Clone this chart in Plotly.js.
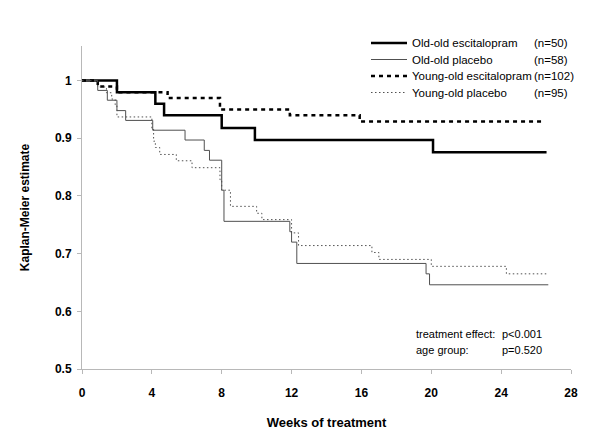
<!DOCTYPE html>
<html>
<head>
<meta charset="utf-8">
<script src="https://cdn.plot.ly/plotly-3.0.1.min.js"></script>
<style>html,body{margin:0;padding:0;background:#fff;}#chart{width:600px;height:446px;}</style>
</head>
<body>
<div id="chart"></div>
<script>
// ---- data (weeks, Kaplan-Meier estimate) ----
const seriesNames = ["Old-old escitalopram", "Old-old placebo", "Young-old escitalopram", "Young-old placebo"];
const seriesN = ["(n=50)", "(n=58)", "(n=102)", "(n=95)"];

const oeWeeks = [0, 2.0, 4.2, 4.7, 8.0, 9.9, 20.1, 26.6];
const oeSurv  = [1, 0.98, 0.96, 0.94, 0.918, 0.897, 0.876, 0.876];

const opWeeks = [0, 0.9, 1.45, 2.0, 2.5, 4.05, 5.9, 7.0, 7.3, 8.0, 8.13, 11.9, 12.0, 12.3, 19.7, 19.9, 26.7];
const opSurv  = [1, 0.983, 0.966, 0.948, 0.931, 0.914, 0.897, 0.879, 0.862, 0.81, 0.756, 0.738, 0.72, 0.683, 0.665, 0.646, 0.646];

const yeWeeks = [0, 0.9, 2.0, 4.9, 7.9, 11.9, 15.9, 26.5];
const yeSurv  = [1, 0.99, 0.98, 0.97, 0.95, 0.94, 0.929, 0.929];

const ypWeeks = [0, 0.9, 1.4, 1.7, 1.9, 2.0, 4.0, 4.1, 4.2, 4.45, 5.4, 6.3, 7.9, 8.0, 8.5, 10.0, 10.3, 12.0, 12.4, 16.6, 17.0, 20.0, 24.3, 26.7];
const ypSurv  = [1, 0.989, 0.979, 0.968, 0.958, 0.937, 0.916, 0.895, 0.884, 0.872, 0.861, 0.849, 0.828, 0.81, 0.782, 0.77, 0.759, 0.736, 0.714, 0.702, 0.69, 0.678, 0.665, 0.665];

const xTicks = [0, 4, 8, 12, 16, 20, 24, 28];
const yTicks = [0.5, 0.6, 0.7, 0.8, 0.9, 1];
const yTickText = ["0.5", "0.6", "0.7", "0.8", "0.9", "1"];

const statLabels = ["treatment effect:", "age group:"];
const statValues = ["p<0.001", "p=0.520"];

// ---- styles ----
const styles = [
  {color: "#000000", width: 2.5, dash: "solid"},
  {color: "#505050", width: 1, dash: "solid"},
  {color: "#000000", width: 2.5, dash: "4px,4px"},
  {color: "#505050", width: 1, dash: "1.5px,2.5px"}
];
const xs = [oeWeeks, opWeeks, yeWeeks, ypWeeks];
const ys = [oeSurv, opSurv, yeSurv, ypSurv];

const traces = seriesNames.map((nm, i) => ({
  type: "scatter", mode: "lines", name: nm,
  x: xs[i], y: ys[i],
  line: {shape: "hv", color: styles[i].color, width: styles[i].width, dash: styles[i].dash},
  showlegend: false, hoverinfo: "skip"
}));

// pixel -> paper helpers (layout positions)
const L = 82, R = 29, T = 46, B = 77, W = 600, H = 446;
const pw = W - L - R, ph = H - T - B;
const px = p => (p - L) / pw;
const py = p => (H - B - p) / ph;

const FONT = "Liberation Sans, Arial, sans-serif";
const legendRows = [43, 59.5, 76, 92.5];
const shapes = [], annotations = [];
seriesNames.forEach((nm, i) => {
  shapes.push({type: "line", xref: "paper", yref: "paper",
    x0: px(371), x1: px(407), y0: py(legendRows[i]), y1: py(legendRows[i]),
    line: {color: styles[i].color, width: styles[i].width, dash: styles[i].dash}});
  annotations.push({xref: "paper", yref: "paper", x: px(410), y: py(legendRows[i]),
    xanchor: "left", yanchor: "middle", showarrow: false, text: nm,
    font: {family: FONT, size: 11.5, color: "#000"}});
  annotations.push({xref: "paper", yref: "paper", x: px(532), y: py(legendRows[i]),
    xanchor: "left", yanchor: "middle", showarrow: false, text: seriesN[i],
    font: {family: FONT, size: 11.5, color: "#000"}});
});
const statRows = [334, 350];
statLabels.forEach((t, i) => {
  annotations.push({xref: "paper", yref: "paper", x: px(414), y: py(statRows[i]),
    xanchor: "left", yanchor: "middle", showarrow: false, text: t,
    font: {family: FONT, size: 11, color: "#000"}});
  annotations.push({xref: "paper", yref: "paper", x: px(500), y: py(statRows[i]),
    xanchor: "left", yanchor: "middle", showarrow: false, text: statValues[i],
    font: {family: FONT, size: 11, color: "#000"}});
});

const axisCommon = {
  showline: true, linecolor: "#b8b8b8", linewidth: 1,
  ticks: "outside", ticklen: 4, tickcolor: "#b8b8b8", tickwidth: 1,
  showgrid: false, zeroline: false,
  tickfont: {family: FONT, size: 12, color: "#000", weight: "bold"}
};

const layout = {
  width: W, height: H,
  margin: {l: L, r: R, t: T, b: B},
  paper_bgcolor: "#fff", plot_bgcolor: "#fff",
  showlegend: false,
  xaxis: Object.assign({}, axisCommon, {
    range: [0, 28], tickmode: "array", tickvals: xTicks,
    ticklabelstandoff: 9,
    title: {text: "Weeks of treatment", standoff: 18,
      font: {family: FONT, size: 13, color: "#000", weight: "bold"}}
  }),
  yaxis: Object.assign({}, axisCommon, {
    range: [0.5, 1.06], tickmode: "array", tickvals: yTicks, ticktext: yTickText,
    ticklabelstandoff: 3,
    title: {text: "Kaplan-Meier estimate", standoff: 22,
      font: {family: FONT, size: 12, color: "#000", weight: "bold"}}
  }),
  shapes: shapes,
  annotations: annotations
};

Plotly.newPlot("chart", traces, layout, {displayModeBar: false, staticPlot: true});
</script>
</body>
</html>
